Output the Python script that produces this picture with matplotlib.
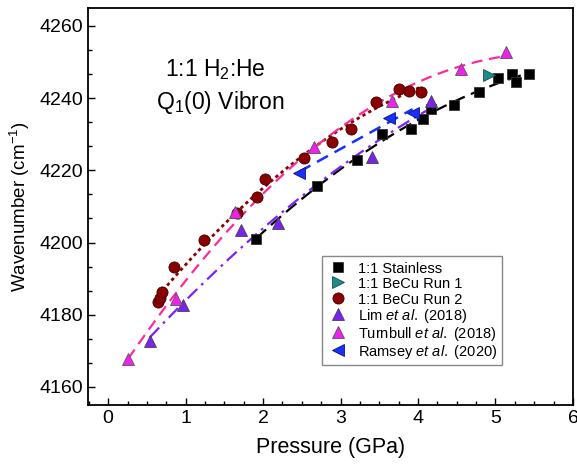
import numpy as np
import matplotlib
matplotlib.use("Agg")
import matplotlib.pyplot as plt
from matplotlib.ticker import MultipleLocator, AutoMinorLocator

plt.rcParams["font.family"] = ["Liberation Sans", "DejaVu Sans"]
plt.rcParams["mathtext.fontset"] = "custom"
plt.rcParams["mathtext.rm"] = "Liberation Sans"
plt.rcParams["mathtext.it"] = "Liberation Sans:italic"

# 1:1 Stainless
stainless_p = [1.91, 2.69, 3.21, 3.54, 3.91, 4.06, 4.17, 4.47, 4.79, 5.03, 5.21, 5.27, 5.43]
stainless_w = [4201.0, 4215.6, 4222.8, 4230.0, 4231.4, 4234.2, 4237.0, 4238.0, 4241.8, 4245.6, 4246.7, 4244.5, 4246.7]

# 1:1 BeCu Run 1
becu1_p = [4.92]
becu1_w = [4246.4]

# 1:1 BeCu Run 2
becu2_p = [0.65, 0.67, 0.70, 0.85, 1.24, 1.66, 1.92, 2.02, 2.53, 2.89, 3.13, 3.46, 3.76, 3.88, 4.04]
becu2_w = [4183.5, 4184.5, 4186.3, 4193.1, 4200.8, 4208.2, 4212.7, 4217.5, 4223.5, 4227.9, 4231.4, 4239.0, 4242.5, 4241.9, 4241.8]

# Lim et al. (2018)
lim_p = [0.54, 0.97, 1.72, 2.19, 3.41, 4.17]
lim_w = [4172.6, 4182.8, 4203.6, 4205.5, 4223.7, 4239.3]

# Turnbull et al. (2018)
turn_p = [0.26, 0.88, 1.64, 2.66, 3.66, 4.55, 5.14]
turn_w = [4167.8, 4184.3, 4208.5, 4226.5, 4239.1, 4248.0, 4252.9]

# Ramsey et al. (2020)
ram_p = [2.47, 3.63, 3.93]
ram_w = [4219.4, 4234.6, 4236.0]


def add_fit(ax, p, w, deg, **kw):
    coef = np.polyfit(p, w, deg)
    xs = np.linspace(min(p), max(p), 200)
    ax.plot(xs, np.polyval(coef, xs), zorder=2, **kw)


fig = plt.figure(figsize=(5.77, 4.66), dpi=100)
ax = fig.add_axes([0.1525, 0.131, 0.8405, 0.852])

# fits
add_fit(ax, becu2_p, becu2_w, 2, color="#8b0000", lw=2, linestyle=(0, (1.2, 1.2)))
add_fit(ax, turn_p, turn_w, 2, color="#ff2a9a", lw=1.6, linestyle=(0, (5, 3)))
add_fit(ax, stainless_p, stainless_w, 2, color="black", lw=1.6, linestyle=(0, (6, 3)))
add_fit(ax, lim_p, lim_w, 2, color="#7f1fff", lw=1.6, linestyle=(0, (6, 2.5, 1.2, 2.5)))
add_fit(ax, ram_p, ram_w, 1, color="#1530ff", lw=1.8, linestyle=(0, (5, 3)))

# data points
mk = dict(linestyle="none", markeredgewidth=0.6, zorder=3)
ax.plot(stainless_p, stainless_w, "s", color="black", markeredgecolor="#333333",
        markersize=7, label="1:1 Stainless", **mk)
ax.plot(becu1_p, becu1_w, ">", color="#1b8b8b", markeredgecolor="#1b5050",
        markersize=8, label="1:1 BeCu Run 1", **mk)
ax.plot(becu2_p, becu2_w, "o", color="#8b0000", markeredgecolor="#3a0000",
        markersize=8, label="1:1 BeCu Run 2", **mk)
ax.plot(lim_p, lim_w, "^", color="#7a22f0", markeredgecolor="#444444",
        markersize=8, label=r"Lim $\mathit{et\ al.}$ (2018)", **mk)
ax.plot(turn_p, turn_w, "^", color="#f020f0", markeredgecolor="#555555",
        markersize=8, label=r"Turnbull $\mathit{et\ al.}$ (2018)", **mk)
ax.plot(ram_p, ram_w, "<", color="#1530ff", markeredgecolor="#10107a",
        markersize=8, label=r"Ramsey $\mathit{et\ al.}$ (2020)", **mk)

ax.set_xlim(-0.26, 6)
ax.set_ylim(4155, 4265)
ax.xaxis.set_major_locator(MultipleLocator(1))
ax.xaxis.set_minor_locator(AutoMinorLocator(4))
ax.yaxis.set_major_locator(MultipleLocator(20))
ax.yaxis.set_minor_locator(AutoMinorLocator(3))
ax.tick_params(which="both", direction="in", top=False, right=False, labelsize=14)
ax.tick_params(which="major", length=5, width=1)
ax.tick_params(which="minor", length=3, width=1)
for s in ax.spines.values():
    s.set_linewidth(1.3)

ax.set_xlabel("Pressure (GPa)", fontsize=15.5, labelpad=7)
ax.set_ylabel(r"Wavenumber (cm$^{-1}$)", fontsize=13.5, labelpad=5)

ax.text(0.262, 0.844, r"1:1 H$_2$:He", transform=ax.transAxes, fontsize=16.5,
        ha="center", va="center")
ax.text(0.272, 0.761, r"Q$_1$(0) Vibron", transform=ax.transAxes, fontsize=16.5,
        ha="center", va="center")

# tall handle boxes keep the row pitch even between plain and mathtext labels
leg = ax.legend(loc="upper left", bbox_to_anchor=(0.482, 0.375), fontsize=10.5,
                fancybox=False, edgecolor="#888888", framealpha=1,
                handletextpad=0.6, labelspacing=0.0, borderpad=0.3,
                handlelength=1.6, handleheight=1.22, borderaxespad=0)
leg.get_frame().set_linewidth(1.0)

fig.savefig("out.png", dpi=100)
